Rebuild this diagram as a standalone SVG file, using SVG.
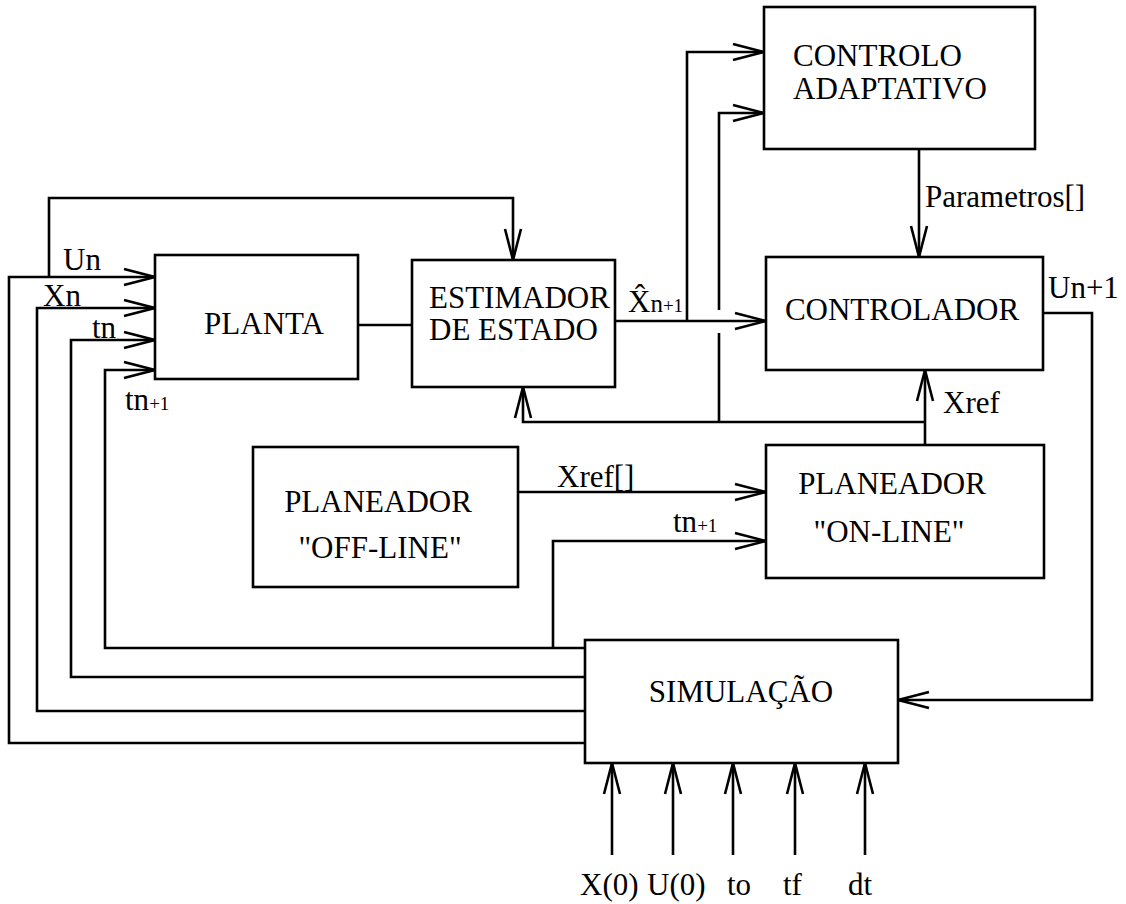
<svg xmlns="http://www.w3.org/2000/svg" width="1126" height="904" viewBox="0 0 1126 904">
<style>
.box{fill:#fff;stroke:#000;stroke-width:2.6}
.ln{fill:none;stroke:#000;stroke-width:2.6;stroke-linejoin:miter}
.t{font-family:"Liberation Serif","Times New Roman","DejaVu Serif",serif;font-size:31px;fill:#000}
.s{font-size:19px}
.m{text-anchor:middle}
</style>
<defs>
<marker id="arr" viewBox="-34 -11 36 22" refX="0" refY="0" markerWidth="36" markerHeight="22" markerUnits="userSpaceOnUse" orient="auto">
<path d="M-31,-8 L0,0 L-31,8" fill="none" stroke="#000" stroke-width="2.6"/>
</marker>
</defs>
<rect width="1126" height="904" fill="#fff"/>
<g id="connectors" class="ln">
<path d="M585,743 H9 V277 H155" marker-end="url(#arr)"/>
<path d="M585,711 H37 V308 H155" marker-end="url(#arr)"/>
<path d="M585,677 H71 V340 H155" marker-end="url(#arr)"/>
<path d="M585,648 H105 V370 H155" marker-end="url(#arr)"/>
<path d="M553,648 V541 H766" marker-end="url(#arr)"/>
<path d="M49,277 V198 H513 V260" marker-end="url(#arr)"/>
<path d="M358,325 H412"/>
<path d="M615,321 H766" marker-end="url(#arr)"/>
<path d="M687,321 V52 H764" marker-end="url(#arr)"/>
<path d="M719,422 V333"/>
<path d="M719,310 V113 H764" marker-end="url(#arr)"/>
<path d="M925,445 V370" marker-end="url(#arr)"/>
<path d="M925,422 H523 V387" marker-end="url(#arr)"/>
<path d="M919,149 V257" marker-end="url(#arr)"/>
<path d="M1043,313 H1092 V700 H898" marker-end="url(#arr)"/>
<path d="M518,492 H766" marker-end="url(#arr)"/>
<path d="M612,855 V763" marker-end="url(#arr)"/>
<path d="M673,855 V763" marker-end="url(#arr)"/>
<path d="M733,855 V763" marker-end="url(#arr)"/>
<path d="M795,855 V763" marker-end="url(#arr)"/>
<path d="M865,855 V763" marker-end="url(#arr)"/>
</g>
<g id="planta">
<rect class="box" x="155" y="255" width="203" height="124"/>
<text class="t m" x="264" y="334">PLANTA</text>
</g>
<g id="estimador">
<rect class="box" x="412" y="260" width="203" height="127"/>
<text class="t" x="429" y="308">ESTIMADOR</text>
<text class="t" x="429" y="340">DE ESTADO</text>
</g>
<g id="adaptativo">
<rect class="box" x="764" y="7" width="271" height="142"/>
<text class="t" x="793" y="66">CONTROLO</text>
<text class="t" x="793" y="99">ADAPTATIVO</text>
</g>
<g id="controlador">
<rect class="box" x="766" y="257" width="277" height="113"/>
<text class="t m" x="902" y="320">CONTROLADOR</text>
</g>
<g id="planeador-online">
<rect class="box" x="766" y="445" width="278" height="133"/>
<text class="t m" x="892" y="494">PLANEADOR</text>
<text class="t m" x="889" y="542">"ON-LINE"</text>
</g>
<g id="planeador-offline">
<rect class="box" x="253" y="447" width="265" height="140"/>
<text class="t m" x="378" y="512">PLANEADOR</text>
<text class="t m" x="380" y="558">"OFF-LINE"</text>
</g>
<g id="simulacao">
<rect class="box" x="585" y="640" width="313" height="123"/>
<text class="t m" x="741" y="702">SIMULAÇÃO</text>
</g>
<g id="labels">
<text class="t" x="63" y="270">Un</text>
<text class="t" x="43" y="306">Xn</text>
<text class="t" x="92" y="338">tn</text>
<text class="t" x="125" y="410">tn<tspan class="s">+1</tspan></text>
<text class="t" x="628" y="312">X&#x302;<tspan style="font-size:25px">n</tspan><tspan class="s">+1</tspan></text>
<text class="t" x="925" y="207">Parametros[]</text>
<text class="t" x="1048" y="298">Un+1</text>
<text class="t" x="943" y="413">Xref</text>
<text class="t" x="557" y="487">Xref[]</text>
<text class="t" x="673" y="532">tn<tspan class="s">+1</tspan></text>
<text class="t" x="580" y="895">X(0)</text>
<text class="t" x="647" y="895">U(0)</text>
<text class="t" x="727" y="895">to</text>
<text class="t" x="783" y="895">tf</text>
<text class="t" x="848" y="895">dt</text>
</g>
</svg>
